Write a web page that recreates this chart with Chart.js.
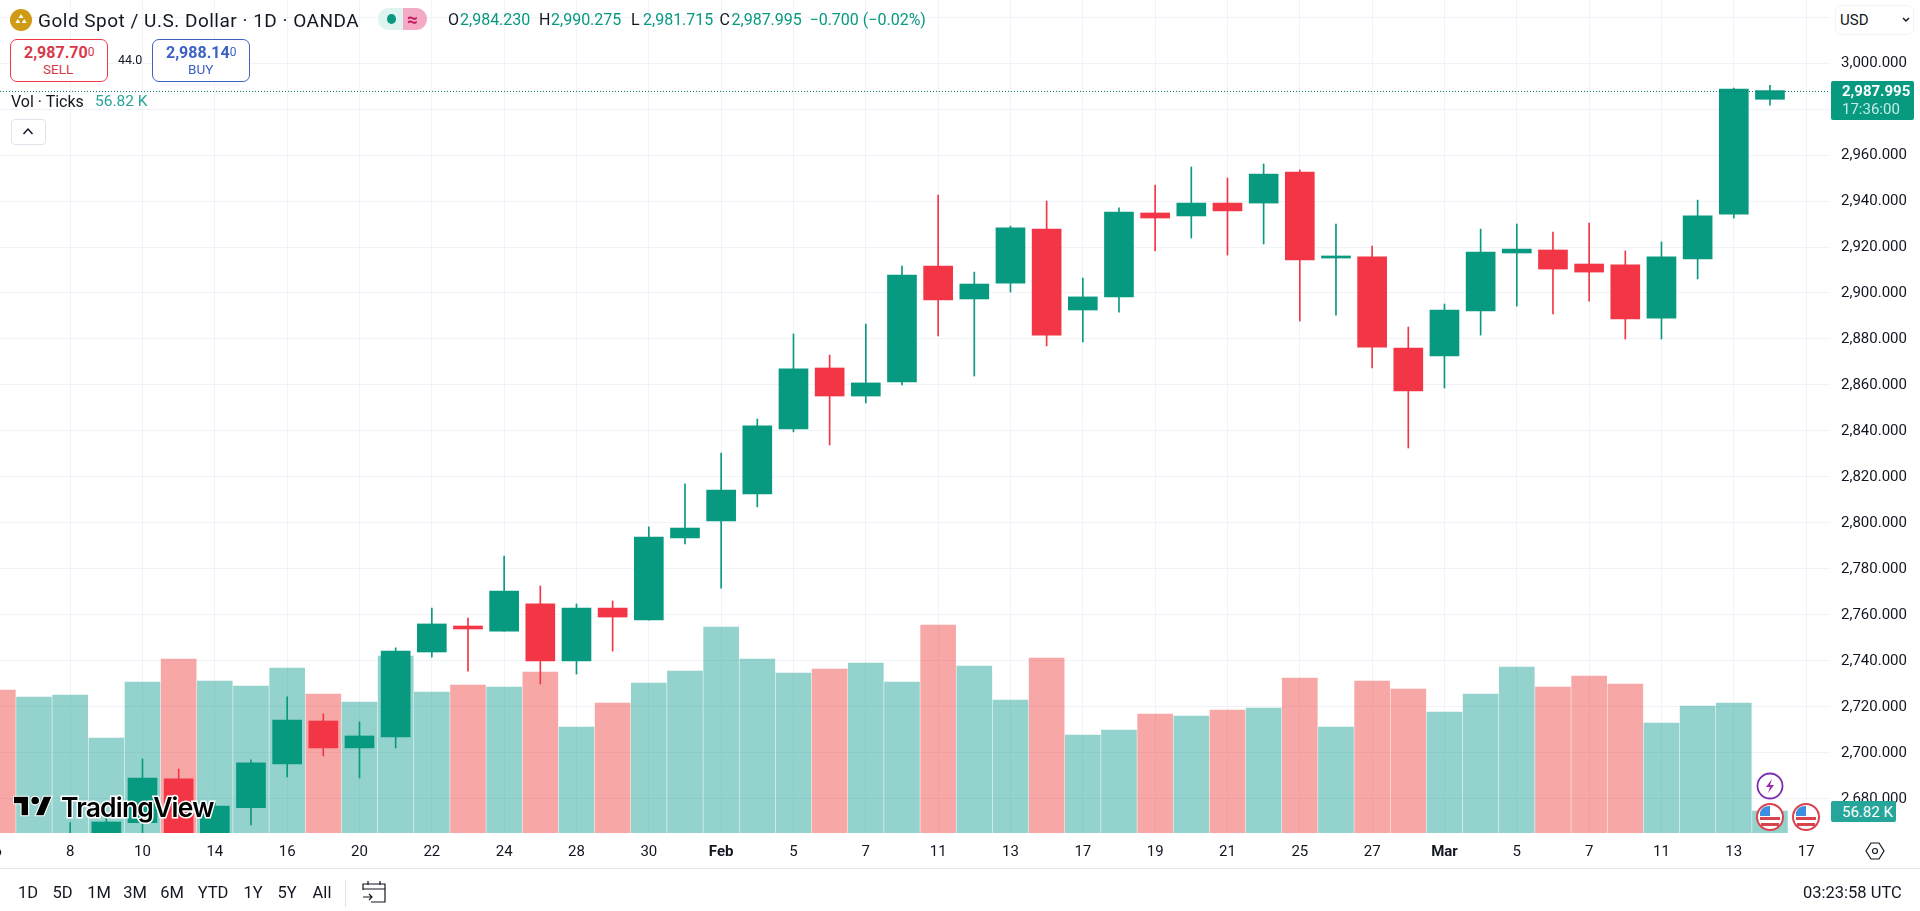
<!DOCTYPE html>
<html>
<head>
<meta charset="utf-8">
<title>Gold Spot / U.S. Dollar</title>
<script src="https://cdn.jsdelivr.net/npm/chart.js@4/dist/chart.umd.min.js"></script>
<style>
  html, body { margin: 0; padding: 0; background: #fff; overflow: hidden; }
  body { width: 1920px; height: 911px; position: relative; font-family: Roboto, sans-serif; color: #131722; }
  canvas { position: absolute; left: 0; top: 0; }
  .t { position: absolute; white-space: nowrap; line-height: 1; transform: translateY(-50%); }
  .box { position: absolute; box-sizing: border-box; background: #fff; }
  svg { position: absolute; }
</style>
</head>
<body>
<canvas id="myChart" width="1920" height="911"></canvas>
<div id="overlay"></div>

<script>
// x axis labels, one per trading day (6 Jan - 17 Mar)
const categories = ['6', '7', '8', '9', '10', '13', '14', '15', '16', '17', '20', '21', '22', '23', '24', '27', '28', '29', '30', '31',
  'Feb', '4', '5', '6', '7', '10', '11', '12', '13', '14', '17', '18', '19', '20', '21', '24', '25', '26', '27', '28',
  'Mar', '4', '5', '6', '7', '10', '11', '12', '13', '14', '17'];

const opens = [2639, 2637, 2649, 2662, 2669.7, 2688.7, 2662, 2676.2, 2695.2, 2713.9, 2702.2, 2707, 2743.9, 2755.2, 2753, 2764.8, 2740, 2763, 2757.8, 2793.5,
  2800.9, 2812.6, 2840.9, 2867.4, 2855.2, 2861.3, 2911.7, 2897.4, 2904.3, 2927.8, 2892.6, 2898.3, 2934.8, 2933.5, 2939.1, 2939.1, 2952.6, 2915.2, 2915.7, 2876.1,
  2872.6, 2892.2, 2917.4, 2918.7, 2912.6, 2912.2, 2889.1, 2914.8, 2934.3, 2984.23];
const highs = [2649, 2665, 2669.7, 2671.6, 2697.4, 2693, 2679, 2697, 2724.4, 2717, 2713.5, 2745.7, 2763, 2758.7, 2785.6, 2772.6, 2764.8, 2766.1, 2798.3, 2817,
  2830.4, 2845.2, 2882.2, 2873, 2886.5, 2911.7, 2942.6, 2909.1, 2929.1, 2940, 2906.5, 2937, 2946.9, 2954.8, 2950, 2956.1, 2953.5, 2930, 2920.4, 2885.2,
  2895.2, 2927.8, 2930, 2926.5, 2930.4, 2918.3, 2922.2, 2940.4, 2989.1, 2990.275];
const lows = [2614, 2633, 2645, 2656, 2665, 2656, 2660, 2668.7, 2689.6, 2698.7, 2689.1, 2702.2, 2741.7, 2735.6, 2753, 2730, 2734.3, 2744.3, 2757.8, 2790.9,
  2771.7, 2807, 2839.6, 2833.9, 2852.2, 2860, 2881.3, 2863.9, 2900.4, 2877, 2878.7, 2891.7, 2918.3, 2923.9, 2916.5, 2921.3, 2887.8, 2890.4, 2867.4, 2832.6,
  2858.7, 2881.7, 2894.3, 2890.9, 2896.5, 2880, 2880, 2906.1, 2932.6, 2981.715];
const closes = [2637, 2649, 2662, 2670, 2689.1, 2662, 2676.9, 2695.7, 2714.3, 2702.2, 2707.4, 2744.3, 2756.1, 2753.9, 2770.4, 2740, 2763, 2759.1, 2793.9, 2797.8,
  2814.3, 2842.2, 2867, 2855.2, 2860.9, 2907.8, 2897, 2903.9, 2928.3, 2881.7, 2898.3, 2935.2, 2932.6, 2939.1, 2935.7, 2951.7, 2914.4, 2916.1, 2876.5, 2857.4,
  2892.6, 2917.8, 2919.1, 2910.4, 2909.1, 2888.7, 2915.7, 2933.5, 2988.7, 2987.995];
// ticks volume, in thousands
const volumes = [369.4, 351.3, 356.5, 245.4, 390, 449.4, 392.6, 379.7, 426.2, 359, 338.4, 457.2, 364.2, 382.3, 377.1, 415.9, 273.8, 335.8, 387.5, 418.4,
  532.1, 449.4, 413.3, 423.6, 439.1, 390, 537.3, 431.4, 343.5, 452, 253.1, 266, 307.4, 302.2, 317.7, 322.9, 400.4, 273.8, 392.6, 372,
  312.5, 359, 428.8, 377.1, 405.5, 384.9, 284.1, 328, 335.8, 56.82];

const lastPrice = 2987.995;
const upColor = '#089981';
const downColor = '#F23645';
const upVolColor = 'rgba(0,150,136,0.42)';
const downVolColor = 'rgba(240,60,60,0.45)';

const isUp = (i) => closes[i] >= opens[i];
const barColor = (c) => (isUp(c.dataIndex) ? upColor : downColor);
const volColor = (c) => (isUp(c.dataIndex) ? upVolColor : downVolColor);

// dotted line at the last price
const lastPriceLine = {
  id: 'lastPriceLine',
  afterDatasetsDraw(chart) {
    const { ctx, chartArea, scales } = chart;
    const y = Math.round(scales.y.getPixelForValue(lastPrice)) + 0.5;
    ctx.save();
    ctx.strokeStyle = '#067a67';
    ctx.lineWidth = 1;
    ctx.setLineDash([1, 2]);
    ctx.beginPath();
    ctx.moveTo(chartArea.left, y);
    ctx.lineTo(chartArea.right, y);
    ctx.stroke();
    ctx.restore();
  },
};

const ctx = document.getElementById('myChart');

new Chart(ctx, {
  type: 'bar',
  plugins: [lastPriceLine],
  data: {
    datasets: [
      {
        label: 'Vol',
        yAxisID: 'vol',
        order: 3,
        data: volumes.map((v, i) => ({ x: i, y: v })),
        backgroundColor: volColor,
        barThickness: 35,
      },
      {
        label: 'Wick',
        yAxisID: 'y',
        order: 2,
        data: highs.map((h, i) => ({ x: i, y: [lows[i], h] })),
        backgroundColor: barColor,
        barThickness: 1,
      },
      {
        label: 'Body',
        yAxisID: 'y',
        order: 1,
        data: opens.map((o, i) => ({ x: i, y: [o, closes[i]] })),
        backgroundColor: barColor,
        barThickness: 29,
      },
    ],
  },
  options: {
    responsive: false,
    animation: false,
    devicePixelRatio: 1,
    layout: { padding: 0 },
    datasets: { bar: { grouped: false, borderWidth: 0, borderSkipped: false } },
    plugins: { legend: { display: false }, tooltip: { enabled: false } },
    scales: {
      x: {
        type: 'linear',
        offset: false,
        min: 0.06,
        max: 50.66,
        afterBuildTicks: (s) => {
          s.ticks = categories.map((c, i) => ({ value: i })).filter((t) => t.value % 2 === 0);
        },
        afterFit: (s) => {
          s.height = 78;
          s.paddingLeft = 0;
          s.paddingRight = 0;
        },
        grid: { color: '#f0f3fa', drawTicks: false, offset: false },
        border: { display: false },
        ticks: {
          autoSkip: false,
          maxRotation: 0,
          padding: 10,
          color: '#131722',
          callback: (v) => categories[v],
          font: (c) => ({
            family: 'Roboto',
            size: 15,
            weight: c.tick && isNaN(categories[c.tick.value]) ? 'bold' : 'normal',
          }),
        },
      },
      y: {
        position: 'right',
        min: 2665.2,
        max: 3027.4,
        afterFit: (s) => {
          s.width = 90;
          s.paddingTop = 0;
          s.paddingBottom = 0;
        },
        grid: { color: '#f0f3fa', drawTicks: false },
        border: { display: false },
        ticks: {
          stepSize: 20,
          includeBounds: false,
          padding: 11,
          color: '#131722',
          font: { family: 'Roboto', size: 15 },
          callback: (v) => v.toLocaleString('en-US', { minimumFractionDigits: 3 }),
        },
      },
      vol: {
        display: false,
        min: 0,
        max: 2151.6,
      },
    },
  },
});

// tradingview chrome round the chart
const overlay = document.getElementById('overlay');

function text(str, x, y, size, color, extra) {
  const el = document.createElement('div');
  el.className = 't';
  el.style.cssText = `left:${x}px;top:${y}px;font-size:${size}px;color:${color || '#131722'};${extra || ''}`;
  el.innerHTML = str;
  overlay.appendChild(el);
  return el;
}

function box(x, y, w, h, css) {
  const el = document.createElement('div');
  el.className = 'box';
  el.style.cssText = `left:${x}px;top:${y}px;width:${w}px;height:${h}px;${css || ''}`;
  overlay.appendChild(el);
  return el;
}

// header
overlay.insertAdjacentHTML('beforeend', `<svg style="left:10px;top:9px" width="22" height="22" viewBox="0 0 22 22">
  <circle cx="11" cy="11" r="11" fill="#cf9a14"/>
  <path d="M11 5l2.4 4h-4.800zM7.800 10l2.400 4H5.400zM14.200 10l2.400 4h-4.800z" fill="#fff"/></svg>`);
text('Gold Spot / U.S. Dollar · 1D · OANDA', 38, 20, 19, '#131722', 'letter-spacing:0.5px');

box(378, 8, 25, 22, 'background:#dff3f0;border-radius:11px 0 0 11px');
box(403, 8, 24, 22, 'background:#f4a9c4;border-radius:0 11px 11px 0');
box(387, 14, 9, 10, 'background:#089981;border-radius:50%');
text('≈', 407, 19, 19, '#c2185b', 'font-weight:bold');

const legendLabels = ['O', 'H', 'L', 'C'];
const legendValues = ['2,984.230', '2,990.275', '2,981.715', '2,987.995'];
const legendX = [448, 539, 631, 719.500];
legendLabels.forEach((l, i) => {
  text(l, legendX[i], 20, 16);
  text(legendValues[i], legendX[i] + 12, 20, 16, '#089981');
});
text('−0.700 (−0.02%)', 809.500, 20, 16, '#089981');

box(10, 39, 98, 43, 'border:1px solid #F23645;border-radius:7px');
text('2,987.70<span style="font-size:12px;font-weight:normal;vertical-align:2px">0</span>', 24, 53, 16, '#d9384a', 'font-weight:bold');
text('SELL', 43, 70, 13.500, '#d9384a');
text('44.0', 118, 60, 12.500);
box(152, 39, 98, 43, 'border:1px solid #3d62c4;border-radius:7px');
text('2,988.14<span style="font-size:12px;font-weight:normal;vertical-align:2px">0</span>', 166, 53, 16, '#3d62c4', 'font-weight:bold');
text('BUY', 188, 70, 13.500, '#3d62c4');

text('Vol · Ticks', 11, 102, 16);
text('56.82 K', 95, 102, 15.500, '#26a69a');
box(11, 119, 35, 26, 'border:1px solid #e0e3eb;border-radius:4px');
overlay.insertAdjacentHTML('beforeend', `<svg style="left:22px;top:127px" width="12" height="9" viewBox="0 0 12 9">
  <path d="M1.500 7l4.500-5 4.500 5" fill="none" stroke="#131722" stroke-width="1.500"/></svg>`);

// top right currency selector and price tags
box(1835, 5, 79, 30, 'border:1px solid #f0f3fa;border-radius:6px');
text('USD', 1840, 20, 15);
overlay.insertAdjacentHTML('beforeend', `<svg style="left:1901px;top:16px" width="10" height="8" viewBox="0 0 10 8">
  <path d="M2 2l3 3 3-3" fill="none" stroke="#131722" stroke-width="1.500"/></svg>`);

box(1831, 81, 83, 39, 'background:#089981;border-radius:2px');
text('2,987.995', 1842, 91, 15, '#fff', 'font-weight:bold');
text('17:36:00', 1842, 109, 15, '#c4ece5');

box(1831, 801, 65, 21, 'background:#26a69a;border-radius:2px');
text('56.82 K', 1842, 812, 15, '#fff');

// logo
overlay.insertAdjacentHTML('beforeend', `<svg style="left:13px;top:794px" width="40" height="24" viewBox="0 0 36 22">
  <path d="M14 20H7V9H0V2h14zM28 20h-8l7.500-18h8z" fill="#000" stroke="#fff" stroke-width="1"/>
  <circle cx="20" cy="6" r="4" fill="#000" stroke="#fff" stroke-width="1"/></svg>`);
text('TradingView', 61, 807, 26.500, '#000', 'font-family:Inter;font-weight:600;letter-spacing:-0.8px;-webkit-text-stroke:3px #fff;paint-order:stroke fill');

// event markers
overlay.insertAdjacentHTML('beforeend', `<svg style="left:1755px;top:771px" width="30" height="30" viewBox="0 0 30 30">
  <circle cx="15" cy="15" r="12.500" fill="#fff" stroke="#7b2fb0" stroke-width="1.800"/>
  <path d="M17 8l-6 8h4l-2 6 6-8h-4z" fill="#9c27b0"/></svg>`);
[1770, 1806].forEach((cx) => {
  overlay.insertAdjacentHTML('beforeend', `<svg style="left:${cx - 15}px;top:802px" width="30" height="30" viewBox="0 0 30 30">
    <circle cx="15" cy="15" r="13" fill="#fff" stroke="#d9434f" stroke-width="2"/>
    <rect x="5" y="15" width="20" height="3" fill="#d9434f"/><rect x="6" y="21" width="18" height="3" fill="#d9434f"/>
    <path d="M5 14V10a10 10 0 0 1 10-6v10z" fill="#3d8fe0"/></svg>`);
});

// bottom bar
box(0, 868, 1920, 1, 'background:#e0e3eb');
const rangeLabels = ['1D', '5D', '1M', '3M', '6M', 'YTD', '1Y', '5Y', 'All'];
const rangeX = [28, 62.500, 99, 135, 172, 213, 253, 287, 322];
rangeLabels.forEach((l, i) => {
  text(l, rangeX[i], 893, 16.500, '#131722', 'transform:translate(-50%,-50%)');
});
box(345, 880, 1, 27, 'background:#e0e3eb');
overlay.insertAdjacentHTML('beforeend', `<svg style="left:362px;top:880px" width="24" height="24" viewBox="0 0 24 24" fill="none" stroke="#131722" stroke-width="1.200">
  <path d="M1 10V4h22v18H9M1 9h22M6 1v4M18 1v4M1 17h9M7 14l3 3-3 3"/></svg>`);
text('03:23:58 UTC', 1803, 893, 16.500);

// settings hexagon
overlay.insertAdjacentHTML('beforeend', `<svg style="left:1865px;top:841px" width="20" height="20" viewBox="0 0 20 20" fill="none" stroke="#131722" stroke-width="1.200">
  <path d="M6 2h8l5 8-5 8H6l-5-8z"/><circle cx="10" cy="10" r="2.500"/></svg>`);
</script>
</body>
</html>
